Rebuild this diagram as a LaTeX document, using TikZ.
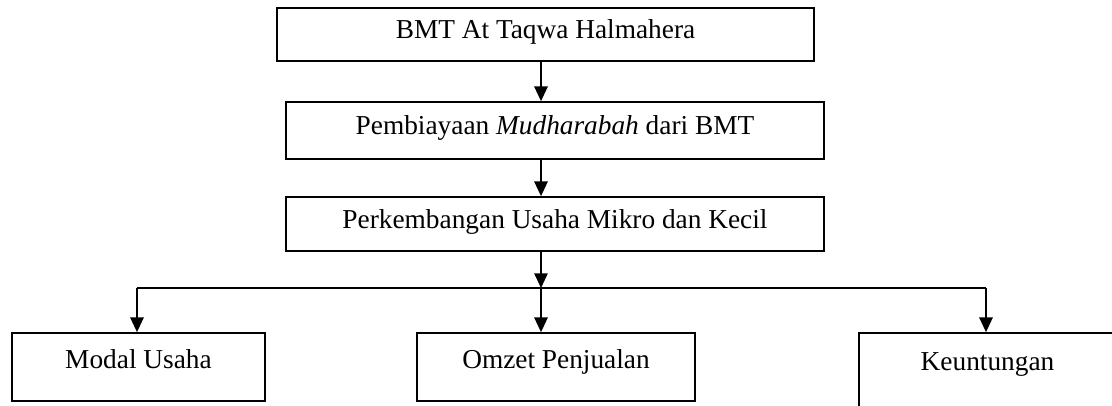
\documentclass[tikz,border=0pt]{standalone}
\usepackage{fontspec}
\setmainfont{Liberation Serif}
\usetikzlibrary{arrows.meta}
\tikzset{
  box/.style={draw, line width=1.3pt, inner sep=0pt, font=\fontsize{20.5pt}{24pt}\selectfont, text height=0.75em, text depth=0.09em},
  lowbox/.style={box, text depth=0.6em},
  arr/.style={line width=1.3pt, -{Triangle[length=11pt,width=10pt]}},
  conn/.style={line width=1.3pt}
}
\begin{document}
\begin{tikzpicture}[x=0.75pt, y=-0.75pt]
\useasboundingbox (0,0) rectangle (1112,405);
\clip (0,0) rectangle (1112,405);
\node[box, minimum width=402.75pt, minimum height=39.75pt] (bmt) at (545.5,34.5) {BMT At Taqwa Halmahera};
\node[box, minimum width=403.5pt, minimum height=42.75pt] (pemb) at (555,130.5) {Pembiayaan \textit{Mudharabah} dari BMT};
\node[box, minimum width=403.5pt, minimum height=40.5pt] (perk) at (555,224) {Perkembangan Usaha Mikro dan Kecil};
\node[lowbox, minimum width=189.75pt, minimum height=51pt] (modal) at (138.5,367) {Modal Usaha};
\node[lowbox, minimum width=208.5pt, minimum height=51pt] (omzet) at (556,367) {Omzet Penjualan};
\node[lowbox, text depth=0.93em, minimum width=192.75pt, minimum height=57.75pt] (keun) at (987.5,371.5) {Keuntungan};
\coordinate (ax) at (541,0);
\coordinate (hl) at (137,288);
\coordinate (hm) at (541,288);
\coordinate (hr) at (986,288);
\draw[arr] (bmt.south -| ax) -- (pemb.north -| ax);
\draw[arr] (pemb.south -| ax) -- (perk.north -| ax);
\draw[arr] (perk.south -| ax) -- (hm);
\draw[conn] (hl) -- (hr);
\draw[arr] (hl) -- (modal.north -| hl);
\draw[arr] (hm) -- (omzet.north -| hm);
\draw[arr] (hr) -- (keun.north -| hr);
\end{tikzpicture}
\end{document}
